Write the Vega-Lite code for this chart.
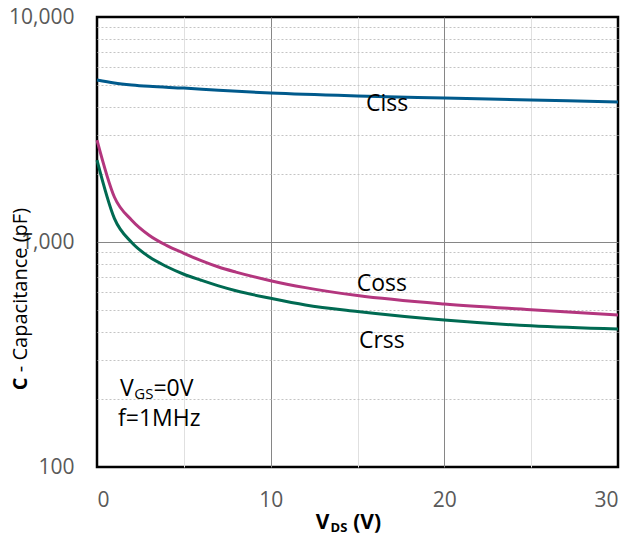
{
  "$schema": "https://vega.github.io/schema/vega-lite/v6.json",
  "width": 521,
  "height": 450,
  "autosize": {"type": "none"},
  "padding": {"left": 97, "top": 17, "right": 15, "bottom": 75},
  "background": "white",
  "config": {
    "font": "Open Sans",
    "view": {"stroke": "#000000", "strokeWidth": 2.5}
  },
  "datasets": {
    "curves": [
      {"series": "Ciss", "vds": 0, "c": 5250},
      {"series": "Ciss", "vds": 1, "c": 5090},
      {"series": "Ciss", "vds": 2, "c": 4990},
      {"series": "Ciss", "vds": 3, "c": 4920},
      {"series": "Ciss", "vds": 5, "c": 4830},
      {"series": "Ciss", "vds": 7, "c": 4720},
      {"series": "Ciss", "vds": 10, "c": 4590},
      {"series": "Ciss", "vds": 15, "c": 4456},
      {"series": "Ciss", "vds": 20, "c": 4366},
      {"series": "Ciss", "vds": 25, "c": 4276},
      {"series": "Ciss", "vds": 30, "c": 4190},
      {"series": "Coss", "vds": 0, "c": 2838},
      {"series": "Coss", "vds": 1, "c": 1585},
      {"series": "Coss", "vds": 2, "c": 1250},
      {"series": "Coss", "vds": 3, "c": 1072},
      {"series": "Coss", "vds": 4, "c": 966},
      {"series": "Coss", "vds": 5, "c": 891},
      {"series": "Coss", "vds": 6, "c": 826},
      {"series": "Coss", "vds": 7, "c": 774},
      {"series": "Coss", "vds": 8, "c": 735},
      {"series": "Coss", "vds": 10, "c": 673},
      {"series": "Coss", "vds": 12, "c": 627},
      {"series": "Coss", "vds": 15, "c": 578},
      {"series": "Coss", "vds": 20, "c": 530},
      {"series": "Coss", "vds": 25, "c": 500},
      {"series": "Coss", "vds": 30, "c": 474},
      {"series": "Crss", "vds": 0, "c": 2312},
      {"series": "Crss", "vds": 1, "c": 1274},
      {"series": "Crss", "vds": 2, "c": 995},
      {"series": "Crss", "vds": 3, "c": 859},
      {"series": "Crss", "vds": 4, "c": 778},
      {"series": "Crss", "vds": 5, "c": 719},
      {"series": "Crss", "vds": 6, "c": 676},
      {"series": "Crss", "vds": 7, "c": 638},
      {"series": "Crss", "vds": 8, "c": 607},
      {"series": "Crss", "vds": 10, "c": 562},
      {"series": "Crss", "vds": 12, "c": 525},
      {"series": "Crss", "vds": 15, "c": 491},
      {"series": "Crss", "vds": 20, "c": 450},
      {"series": "Crss", "vds": 25, "c": 424},
      {"series": "Crss", "vds": 30, "c": 410}
    ],
    "labels": [
      {"role": "series", "label": "Ciss", "vds": 16.7, "c": 4103},
      {"role": "series", "label": "Coss", "vds": 16.4, "c": 650},
      {"role": "series", "label": "Crss", "vds": 16.4, "c": 363},
      {"role": "note", "label": "V", "vds": 1.32, "c": 222},
      {"role": "note", "label": "=0V", "vds": 3.25, "c": 222},
      {"role": "note", "label": "f=1MHz", "vds": 1.21, "c": 164},
      {"role": "noteSub", "label": "GS", "vds": 2.15, "c": 212},
      {"role": "xTitle", "label": "V", "vds": 12.6, "c": 56.4},
      {"role": "xTitle", "label": "(V)", "vds": 14.75, "c": 56.4},
      {"role": "xTitleSub", "label": "DS", "vds": 13.45, "c": 53.6},
      {"role": "yTitleBold", "label": "C", "vds": -4.38, "c": 219.6},
      {"role": "yTitle", "label": "- Capacitance (pF)", "vds": -4.38, "c": 264}
    ]
  },
  "layer": [
    {
      "data": {"name": "curves"},
      "mark": {"type": "line", "interpolate": "monotone", "strokeWidth": 3},
      "encoding": {
        "x": {
          "field": "vds", "type": "quantitative",
          "scale": {"domain": [0, 30], "nice": false, "zero": false},
          "axis": {
            "values": [0, 5, 10, 15, 20, 25, 30],
            "labelExpr": "datum.value % 10 === 0 ? datum.label : ''",
            "title": null,
            "ticks": false,
            "domain": false,
            "labelFontSize": 21,
            "labelColor": "#595959",
            "labelPadding": 22,
            "grid": true,
            "gridWidth": 1,
            "gridColor": {"condition": {"test": "datum.value % 10 === 0", "value": "#868686"}, "value": "#e0e0e0"},
            "gridOpacity": {"condition": {"test": "datum.value === 0 || datum.value === 30", "value": 0}, "value": 1}
          }
        },
        "y": {
          "field": "c", "type": "quantitative",
          "scale": {"type": "log", "domain": [100, 10000], "nice": false},
          "axis": {
            "values": [100, 200, 300, 400, 500, 600, 700, 800, 900, 1000, 2000, 3000, 4000, 5000, 6000, 7000, 8000, 9000, 10000],
            "format": ",",
            "labelExpr": "(datum.value === 100 || datum.value === 1000 || datum.value === 10000) ? datum.label : ''",
            "title": null,
            "ticks": false,
            "domain": false,
            "labelFontSize": 21,
            "labelColor": "#595959",
            "labelPadding": 23,
            "grid": true,
            "gridWidth": 1,
            "gridColor": {"condition": {"test": "datum.value === 1000", "value": "#868686"}, "value": "#c4c4c4"},
            "gridDash": {"condition": {"test": "datum.value === 1000", "value": []}, "value": [2, 2]},
            "gridOpacity": {"condition": {"test": "datum.value === 100 || datum.value === 10000", "value": 0}, "value": 1}
          }
        },
        "color": {
          "field": "series", "type": "nominal",
          "scale": {"domain": ["Ciss", "Coss", "Crss"], "range": ["#005a8c", "#b3367e", "#006a52"]},
          "legend": null
        }
      }
    },
    {
      "data": {"name": "labels"},
      "transform": [{"filter": "datum.role === 'series'"}],
      "mark": {"type": "text", "align": "center", "baseline": "middle", "fontSize": 23, "color": "#000000"},
      "encoding": {
        "x": {"field": "vds", "type": "quantitative"},
        "y": {"field": "c", "type": "quantitative"},
        "text": {"field": "label"}
      }
    },
    {
      "data": {"name": "labels"},
      "transform": [{"filter": "datum.role === 'note'"}],
      "mark": {"type": "text", "align": "left", "baseline": "middle", "fontSize": 23, "color": "#000000"},
      "encoding": {
        "x": {"field": "vds", "type": "quantitative"},
        "y": {"field": "c", "type": "quantitative"},
        "text": {"field": "label"}
      }
    },
    {
      "data": {"name": "labels"},
      "transform": [{"filter": "datum.role === 'noteSub'"}],
      "mark": {"type": "text", "align": "left", "baseline": "middle", "fontSize": 15, "color": "#000000"},
      "encoding": {
        "x": {"field": "vds", "type": "quantitative"},
        "y": {"field": "c", "type": "quantitative"},
        "text": {"field": "label"}
      }
    },
    {
      "data": {"name": "labels"},
      "transform": [{"filter": "datum.role === 'xTitle'"}],
      "mark": {"type": "text", "align": "left", "baseline": "middle", "fontSize": 21, "fontWeight": "bold", "color": "#000000"},
      "encoding": {
        "x": {"field": "vds", "type": "quantitative"},
        "y": {"field": "c", "type": "quantitative"},
        "text": {"field": "label"}
      }
    },
    {
      "data": {"name": "labels"},
      "transform": [{"filter": "datum.role === 'xTitleSub'"}],
      "mark": {"type": "text", "align": "left", "baseline": "middle", "fontSize": 13, "fontWeight": "bold", "color": "#000000"},
      "encoding": {
        "x": {"field": "vds", "type": "quantitative"},
        "y": {"field": "c", "type": "quantitative"},
        "text": {"field": "label"}
      }
    },
    {
      "data": {"name": "labels"},
      "transform": [{"filter": "datum.role === 'yTitleBold'"}],
      "mark": {"type": "text", "align": "left", "baseline": "middle", "angle": 270, "fontSize": 20, "fontWeight": "bold", "color": "#000000"},
      "encoding": {
        "x": {"field": "vds", "type": "quantitative"},
        "y": {"field": "c", "type": "quantitative"},
        "text": {"field": "label"}
      }
    },
    {
      "data": {"name": "labels"},
      "transform": [{"filter": "datum.role === 'yTitle'"}],
      "mark": {"type": "text", "align": "left", "baseline": "middle", "angle": 270, "fontSize": 20, "color": "#000000"},
      "encoding": {
        "x": {"field": "vds", "type": "quantitative"},
        "y": {"field": "c", "type": "quantitative"},
        "text": {"field": "label"}
      }
    }
  ]
}
